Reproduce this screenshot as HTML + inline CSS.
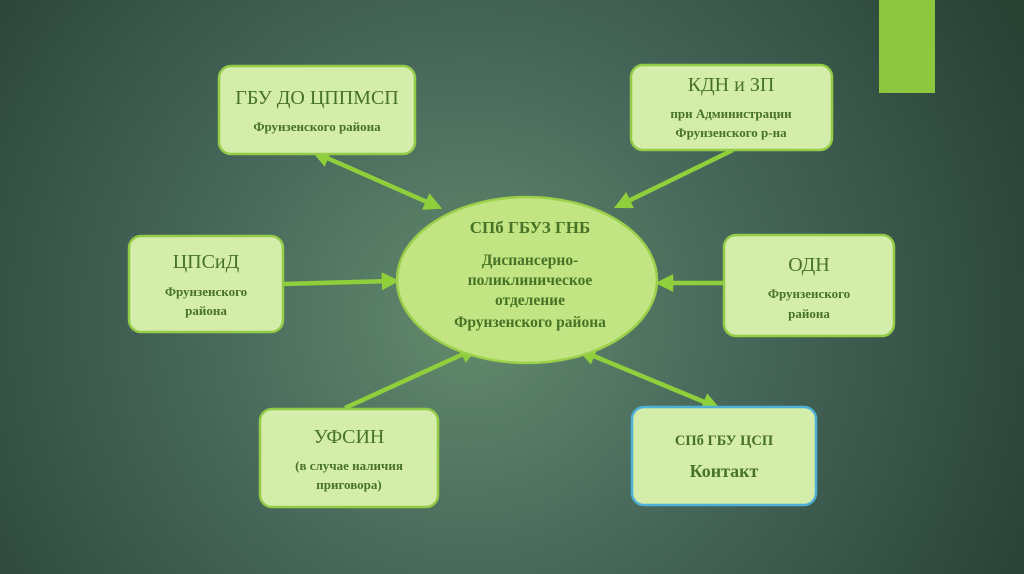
<!DOCTYPE html>
<html><head><meta charset="utf-8"><style>
html,body{margin:0;padding:0;width:1024px;height:574px;overflow:hidden;}
svg{display:block;}
text{font-family:"Liberation Serif",serif;fill:#467326;text-anchor:middle;}
.t{font-size:20px;}
.s{font-size:13px;font-weight:bold;}
</style></head><body>
<svg width="1024" height="574" viewBox="0 0 1024 574" xmlns="http://www.w3.org/2000/svg">
<defs>
<radialGradient id="bg" cx="470" cy="320" r="620" gradientUnits="userSpaceOnUse">
<stop offset="0" stop-color="#628a6c"/>
<stop offset="0.45" stop-color="#46665a"/>
<stop offset="1" stop-color="#284234"/>
</radialGradient>
<marker id="a" markerWidth="4" markerHeight="4" refX="2.5" refY="2" orient="auto-start-reverse" markerUnits="strokeWidth">
<path d="M0,0 L4,2 L0,4 Z" fill="#8fcf3c"/>
</marker>
</defs>
<rect width="1024" height="574" fill="url(#bg)"/>
<rect x="879" y="0" width="56" height="93" fill="#8dc63f"/>
<g stroke="#8fcf3c" stroke-width="4.5" fill="none">
<line x1="318" y1="154" x2="436" y2="206" marker-start="url(#a)" marker-end="url(#a)"/>
<line x1="733" y1="150" x2="620" y2="205" marker-end="url(#a)"/>
<line x1="283" y1="284" x2="393" y2="281" marker-end="url(#a)"/>
<line x1="724" y1="283" x2="662" y2="283" marker-end="url(#a)"/>
<line x1="345" y1="408" x2="472" y2="350" marker-end="url(#a)"/>
<line x1="584" y1="352" x2="714" y2="406" marker-start="url(#a)" marker-end="url(#a)"/>
</g>
<g fill="#d5edab" stroke="#94cc48" stroke-width="2.5">
<rect x="219" y="66" width="196" height="88" rx="12"/>
<rect x="631" y="65" width="201" height="85" rx="12"/>
<rect x="129" y="236" width="154" height="96" rx="12"/>
<rect x="724" y="235" width="170" height="101" rx="12"/>
<rect x="260" y="409" width="178" height="98" rx="12"/>
<rect x="632" y="407" width="184" height="98" rx="12" stroke="#4fb0d6"/>
<ellipse cx="527" cy="280" rx="130" ry="83" fill="#c3e482" stroke="#9ad04a"/>
</g>
<text class="t" x="317" y="104">ГБУ ДО ЦППМСП</text>
<text class="s" x="317" y="131">Фрунзенского района</text>
<text class="t" x="731" y="91">КДН и ЗП</text>
<text class="s" x="731" y="118">при Администрации</text>
<text class="s" x="731" y="137">Фрунзенского р-на</text>
<text class="t" x="206" y="268">ЦПСиД</text>
<text class="s" x="206" y="296">Фрунзенского</text>
<text class="s" x="206" y="315">района</text>
<text class="t" x="809" y="271">ОДН</text>
<text class="s" x="809" y="298">Фрунзенского</text>
<text class="s" x="809" y="318">района</text>
<text class="t" x="349" y="443">УФСИН</text>
<text class="s" x="349" y="470">(в случае наличия</text>
<text class="s" x="349" y="489">приговора)</text>
<text class="s" x="724" y="445" style="font-size:14.5px">СПб ГБУ ЦСП</text>
<text x="724" y="477" style="font-size:18px;font-weight:bold">Контакт</text>
<text x="530" y="233" style="font-size:17px;font-weight:bold">СПб ГБУЗ ГНБ</text>
<text x="530" y="265" style="font-size:15.5px;font-weight:bold">Диспансерно-</text>
<text x="530" y="285" style="font-size:15.5px;font-weight:bold">поликлиническое</text>
<text x="530" y="305" style="font-size:15.5px;font-weight:bold">отделение</text>
<text x="530" y="327" style="font-size:15.5px;font-weight:bold">Фрунзенского района</text>
</svg>
</body></html>
